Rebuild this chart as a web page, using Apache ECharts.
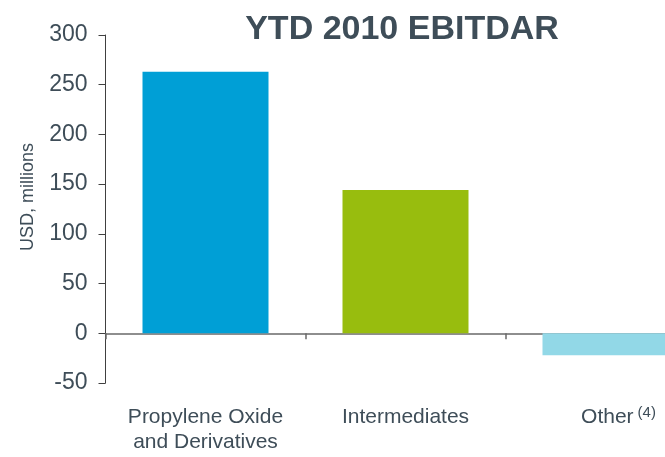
<!DOCTYPE html>
<html>
<head>
<meta charset="utf-8">
<title>YTD 2010 EBITDAR</title>
<script src="https://cdn.jsdelivr.net/npm/echarts@6/dist/echarts.min.js"></script>
<style>
  html, body { margin: 0; padding: 0; background: #ffffff; }
  #chart { width: 665px; height: 457px; }
</style>
</head>
<body>
<div id="chart"></div>
<script>
// Segment results, USD millions
const categories = ['Propylene Oxide\nand Derivatives', 'Intermediates', 'Other'];
const values = [263, 144, -22];
const yTicks = { min: -50, max: 300, step: 50 };

// Segment colours, one per bar
const barColors = ['#009fd6', '#98bd0e', '#92d8e7'];
const textColor = '#3e4d58';
const fontFamily = '"Liberation Sans", Arial, Helvetica, sans-serif';

const chart = echarts.init(document.getElementById('chart'), null, { renderer: 'canvas' });

chart.setOption({
  animation: false,
  backgroundColor: '#ffffff',
  title: {
    text: 'YTD 2010 EBITDAR',
    left: 397,
    top: 8,
    textAlign: 'center',
    textStyle: { color: textColor, fontSize: 34, fontWeight: 'bold', fontFamily: fontFamily }
  },
  grid: {
    left: 105.5, top: 35, bottom: 74, right: -40.5,
    containLabel: false,
    outerBoundsMode: 'none'
  },
  xAxis: {
    type: 'category',
    data: categories,
    axisLine: { onZero: true, lineStyle: { color: '#6a6a6a', width: 1.5 } },
    axisTick: { show: true, length: 6, alignWithLabel: false, lineStyle: { color: '#6a6a6a', width: 1.5 } },
    axisLabel: {
      margin: 22,
      interval: 0,
      color: textColor,
      fontSize: 21,
      lineHeight: 25,
      fontFamily: fontFamily,
      formatter: function (v) {
        return v === 'Other' ? '{o|Other}{s|(4)}' : v;
      },
      rich: {
        o: { fontSize: 21, color: textColor, fontFamily: fontFamily, padding: [0, 0, 0, 26] },
        s: { fontSize: 15, color: textColor, fontFamily: fontFamily, verticalAlign: 'top', padding: [0, 0, 10, 4] }
      }
    },
    splitLine: { show: false }
  },
  yAxis: {
    type: 'value',
    min: yTicks.min,
    max: yTicks.max,
    interval: yTicks.step,
    axisLine: { show: true, lineStyle: { color: '#404040', width: 1 } },
    axisTick: { show: true, length: 7, lineStyle: { color: '#404040', width: 1 } },
    axisLabel: { margin: 18, color: textColor, fontSize: 23, fontFamily: fontFamily },
    splitLine: { show: false }
  },
  graphic: [{
    type: 'text',
    x: 28,
    y: 197,
    rotation: Math.PI / 2,
    style: {
      text: 'USD, millions',
      fill: textColor,
      font: '18px ' + fontFamily,
      textAlign: 'center',
      textVerticalAlign: 'middle'
    }
  }],
  series: [{
    type: 'bar',
    barWidth: '63%',
    data: values.map(function (v, i) {
      return { value: v, itemStyle: { color: barColors[i] } };
    })
  }]
});
</script>
</body>
</html>
